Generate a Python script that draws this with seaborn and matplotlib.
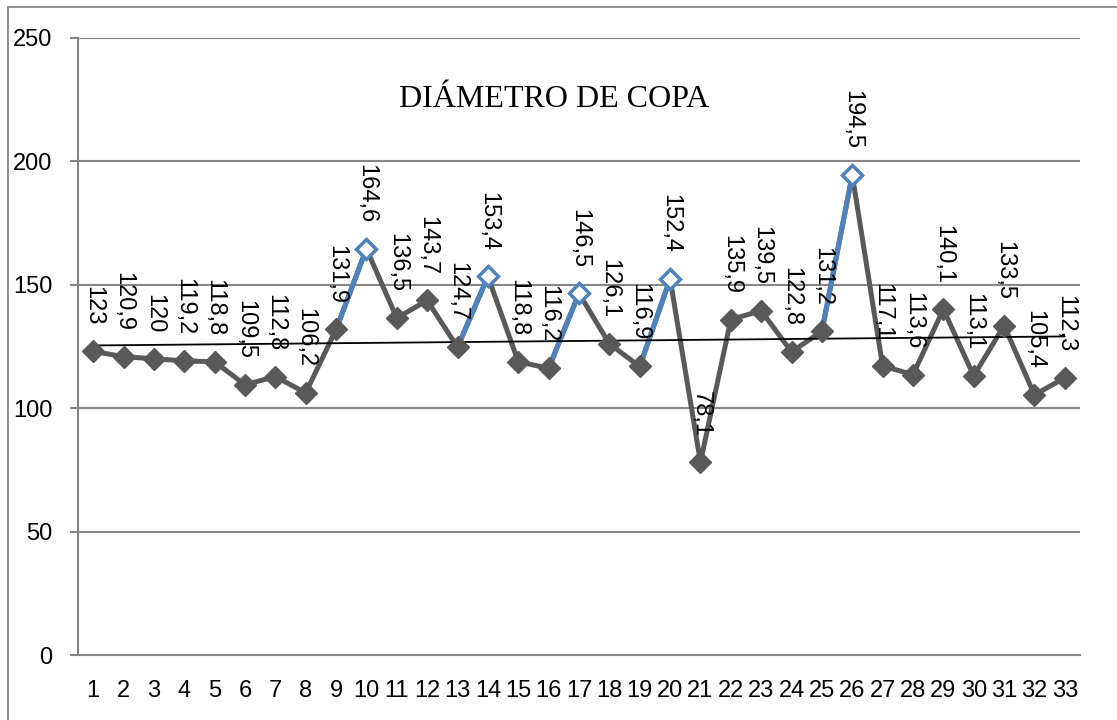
import numpy as np
import pandas as pd
import matplotlib
matplotlib.use("Agg")
import matplotlib.pyplot as plt
import seaborn as sns
from matplotlib.lines import Line2D

arboles = list(range(1, 34))
diametro = [123, 120.9, 120, 119.2, 118.8, 109.5, 112.8, 106.2, 131.9, 164.6,
            136.5, 143.7, 124.7, 153.4, 118.8, 116.2, 146.5, 126.1, 116.9, 152.4,
            78.1, 135.9, 139.5, 122.8, 131.2, 194.5, 117.1, 113.6, 140.1, 113.1,
            133.5, 105.4, 112.3]
destacados = [10, 14, 17, 20, 26]

GRIS = "#595959"
AZUL = "#4F81BD"
REJILLA = "#868686"

df = pd.DataFrame({"arbol": arboles, "diametro": diametro})
df["destacado"] = df["arbol"].isin(destacados)

sns.set_style("white")
plt.rcParams["font.family"] = ["Liberation Sans", "DejaVu Sans"]

fig = plt.figure(figsize=(11.17, 7.2), dpi=100)
ax = fig.add_axes([78 / 1117, 1 - 655 / 720, (1080 - 78) / 1117, (655 - 38) / 720])

# linea base gris
sns.lineplot(data=df, x="arbol", y="diametro", ax=ax, color=GRIS,
             linewidth=3.6, zorder=3)
# tramos azules que llegan a los puntos destacados
for d in destacados:
    tramo = df[df["arbol"].isin([d - 1, d])]
    sns.lineplot(data=tramo, x="arbol", y="diametro", ax=ax, color=AZUL,
                 linewidth=3.6, zorder=4)

normales = df[~df["destacado"]]
resaltados = df[df["destacado"]]
ax.plot(normales["arbol"], normales["diametro"], linestyle="none", marker="D",
        markersize=11, color=GRIS, zorder=5)
ax.plot(resaltados["arbol"], resaltados["diametro"], linestyle="none", marker="D",
        markersize=10, markerfacecolor="white", markeredgecolor=AZUL,
        markeredgewidth=2.5, zorder=6)

# linea de tendencia
pend, orig = np.polyfit(df["arbol"], df["diametro"], 1)
xs = np.array([arboles[0], arboles[-1]])
ax.plot(xs, orig + pend * xs, color="black", linewidth=1.3, zorder=4)

for x, y in zip(arboles, diametro):
    etiqueta = f"{y:g}".replace(".", ",")
    ax.annotate(etiqueta, (x, y), xytext=(0, 18.5), textcoords="offset points",
                rotation=-90, ha="center", va="bottom", fontsize=17,
                color="black", zorder=7)

ax.set_xlim(0.5, 33.5)
ax.set_ylim(0, 250)
ax.set_yticks(range(0, 251, 50))
ax.set_xticks(arboles)
ax.set_xticks(np.arange(0.5, 34, 1), minor=True)
ax.tick_params(axis="x", which="major", length=0, pad=18, labelsize=17,
               labelcolor="black")
ax.tick_params(axis="x", which="minor", length=6, width=1.5, color=REJILLA,
               direction="out")
ax.tick_params(axis="y", length=6, width=1.5, color=REJILLA, pad=12.5,
               labelsize=17, labelcolor="black", direction="out", left=True)
ax.yaxis.grid(True, color=REJILLA, linewidth=1.5)
ax.xaxis.grid(False)
ax.set_xlabel("")
ax.set_ylabel("")
for lado in ["top", "right"]:
    ax.spines[lado].set_visible(False)
for lado in ["left", "bottom"]:
    ax.spines[lado].set_color(REJILLA)
    ax.spines[lado].set_linewidth(1.5)

ax.text(0.475, 0.9, "DIÁMETRO DE COPA", transform=ax.transAxes,
        ha="center", va="center", fontsize=23, color="black",
        family=["Liberation Serif", "DejaVu Serif"])

# marco del area del grafico
fig.add_artist(Line2D([8 / 1117, 1.0], [1 - 7 / 720, 1 - 7 / 720],
                      transform=fig.transFigure, color=REJILLA, linewidth=1.3))
fig.add_artist(Line2D([8 / 1117, 8 / 1117], [0, 1 - 7 / 720],
                      transform=fig.transFigure, color=REJILLA, linewidth=1.3))

fig.savefig("out.png", dpi=100)
